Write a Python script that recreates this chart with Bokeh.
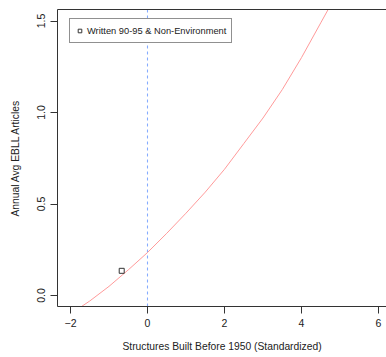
from bokeh.plotting import figure
from bokeh.models import Range1d, LinearAxis, FixedTicker, Legend, LegendItem
from bokeh.embed import file_html
from bokeh.resources import INLINE

# Data
curve_x = [-2.0, -1.5, -1.0, -0.5, 0.0, 0.5, 1.0, 1.5, 2.0, 2.5, 3.0, 3.5, 4.0, 4.5, 5.0]
curve_y = [-0.10, -0.03, 0.05, 0.14, 0.235, 0.34, 0.45, 0.565, 0.69, 0.83, 0.97, 1.125, 1.30, 1.49, 1.68]
point_x = [-0.67]
point_y = [0.135]
ref_x = 0.0
x_ticks = [-2, 0, 2, 4, 6]
y_ticks = [0.0, 0.5, 1.0, 1.5]
y_tick_labels = ["0.0", "0.5", "1.0", "1.5"]
legend_label = "Written 90-95 & Non-Environment"
x_title = "Structures Built Before 1950 (Standardized)"
y_title = "Annual Avg EBLL Articles"

FONT = "Liberation Sans"
FS_TICK = "10.5px"
FS_TITLE = "10.3px"
FS_LEG = "9.3px"
AX = "#333333"

p = figure(width=386, height=357, output_backend="svg", toolbar_location=None,
           x_range=Range1d(-2.338, 6.208), y_range=Range1d(-0.060, 1.563),
           x_axis_location=None, y_axis_location=None,
           min_border_left=57, min_border_right=0, min_border_top=9, min_border_bottom=51)
p.grid.visible = False
p.outline_line_color = None
p.background_fill_color = "white"
p.border_fill_color = "white"

def style(ax):
    ax.axis_line_color = AX
    ax.axis_line_width = 1
    ax.major_tick_line_color = AX
    ax.major_tick_out = 7
    ax.major_tick_in = 0
    ax.minor_tick_line_color = None
    ax.major_label_text_font = FONT
    ax.major_label_text_font_size = FS_TICK
    ax.major_label_text_color = "#222222"
    ax.axis_label_text_font = FONT
    ax.axis_label_text_font_size = FS_TITLE
    ax.axis_label_text_font_style = "normal"
    ax.axis_label_text_color = "#222222"

xa = LinearAxis(ticker=FixedTicker(ticks=x_ticks), axis_label=x_title)
style(xa)
xa.major_label_standoff = 5
xa.axis_label_standoff = 11
p.add_layout(xa, "below")

ya = LinearAxis(ticker=FixedTicker(ticks=y_ticks), axis_label=y_title)
style(ya)
ya.major_label_overrides = {t: l for t, l in zip(y_ticks, y_tick_labels)}
ya.major_label_orientation = "vertical"
ya.major_label_standoff = 5
ya.axis_label_standoff = 14
p.add_layout(ya, "left")

ta = LinearAxis(ticker=FixedTicker(ticks=[]))
ta.axis_line_color = AX
ta.major_tick_line_color = None
ta.minor_tick_line_color = None
ta.major_label_text_font_size = "0px"
ta.major_tick_out = 0
ta.major_label_standoff = 0
p.add_layout(ta, "above")

p.vspan(x=[ref_x], line_color="#86acff", line_width=1.1, line_dash="3 3")

p.line(curve_x, curve_y, line_color="#ff9a9a", line_width=1)

r = p.scatter(point_x, point_y, marker="square", size=5, fill_color=None,
              line_color="#333333", line_width=1)

leg = Legend(items=[LegendItem(label=legend_label, renderers=[r])],
             location=(12, 263), orientation="vertical")
leg.label_text_font = FONT
leg.label_text_font_size = FS_LEG
leg.label_text_color = "#222222"
leg.border_line_color = "#222222"
leg.border_line_width = 1
leg.background_fill_color = "white"
leg.background_fill_alpha = 1
leg.padding = 5
leg.margin = 0
leg.glyph_width = 9
leg.glyph_height = 13
leg.label_height = 13
leg.label_standoff = 3
leg.spacing = 0
p.add_layout(leg, "center")

open("out.html", "w").write(file_html(p, INLINE))
